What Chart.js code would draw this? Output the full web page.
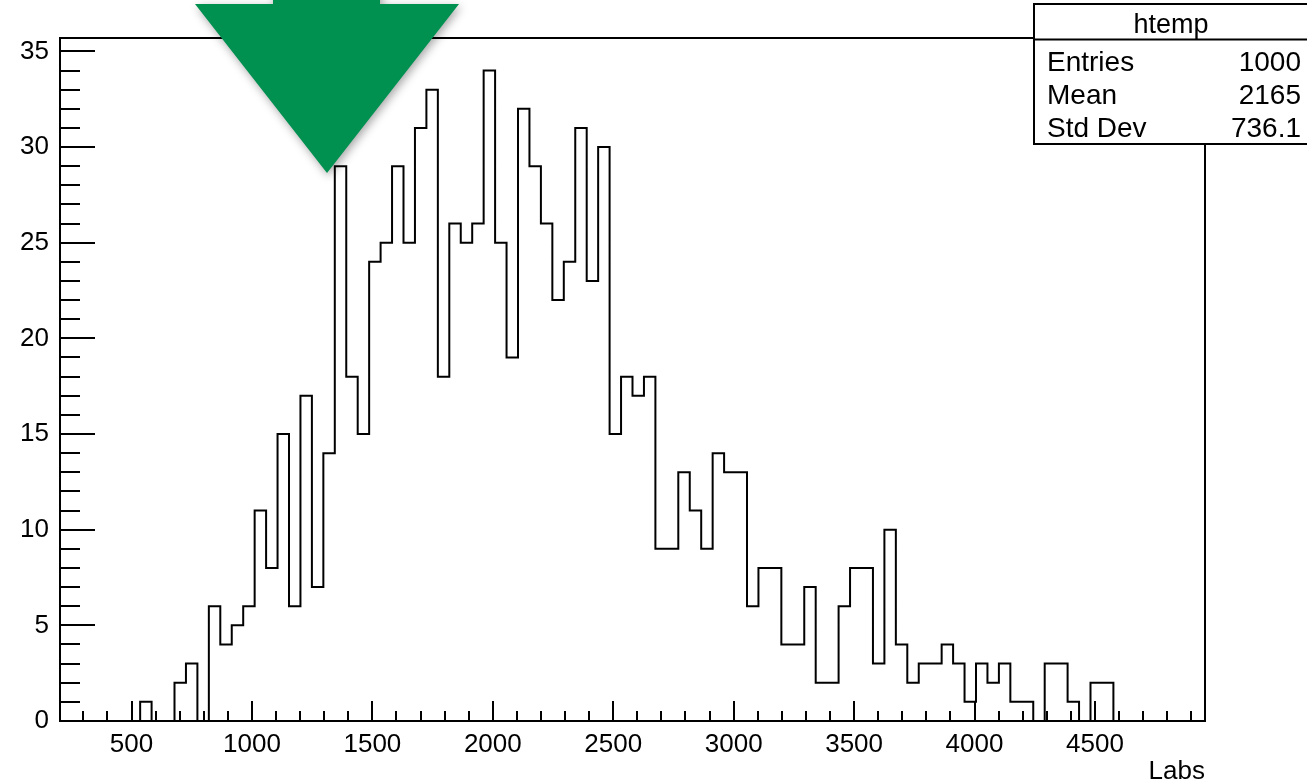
<!DOCTYPE html>
<html>
<head>
<meta charset="utf-8">
<script src="https://cdn.jsdelivr.net/npm/chart.js@4/dist/chart.umd.min.js"></script>
<style>
  html, body { margin: 0; padding: 0; background: #ffffff; }
  #wrap { width: 1307px; height: 781px; position: relative; }
</style>
</head>
<body>
<div id="wrap"><canvas id="c" width="1307" height="781"></canvas></div>
<script>
// ---------------- data ----------------
const X_MIN = 202.9;          // lower edge of the histogram axis
const X_MAX = 4957.0;         // upper edge of the histogram axis
const Y_MAX = 35.7;           // top of the frame
const binCounts = [
  0, 0, 0, 0, 0, 0, 0, 1, 0, 0,
  2, 3, 0, 6, 4, 5, 6, 11, 8, 15,
  6, 17, 7, 14, 29, 18, 15, 24, 25, 29,
  25, 31, 33, 18, 26, 25, 26, 34, 25, 19,
  32, 29, 26, 22, 24, 31, 23, 30, 15, 18,
  17, 18, 9, 9, 13, 11, 9, 14, 13, 13,
  6, 8, 8, 4, 4, 7, 2, 2, 6, 8,
  8, 3, 10, 4, 2, 3, 3, 4, 3, 1,
  3, 2, 3, 1, 1, 0, 3, 3, 1, 0,
  2, 2, 0, 0, 0, 0, 0, 0, 0, 0
];
const xTickLabels = [500, 1000, 1500, 2000, 2500, 3000, 3500, 4000, 4500];
const yTickLabels = [0, 5, 10, 15, 20, 25, 30, 35];
const X_MINOR_STEP = 100;
const Y_MINOR_STEP = 1;
const axisTitle = 'Labs';
const statsTitle = 'htemp';
const statsNames = ['Entries', 'Mean', 'Std Dev'];
const statsValues = ['1000', '2165', '736.1'];

// ---------------- build histogram outline points ----------------
const binWidth = (X_MAX - X_MIN) / binCounts.length;
const outline = binCounts.map((v, i) => ({ x: X_MIN + i * binWidth, y: v }));
outline.push({ x: X_MAX, y: binCounts[binCounts.length - 1] });

const FONT = '"Liberation Sans", Arial, Helvetica, sans-serif';
Chart.defaults.font.family = FONT;
Chart.defaults.color = '#000';

// ---------------- ROOT-style decorations ----------------
const rootDecor = {
  id: 'rootDecor',
  afterDraw(chart) {
    const ctx = chart.ctx;
    const a = chart.chartArea;
    const xs = chart.scales.x, ys = chart.scales.y;
    ctx.save();
    ctx.strokeStyle = '#000';
    ctx.lineWidth = 2;
    // frame
    ctx.strokeRect(a.left, a.top, a.right - a.left, a.bottom - a.top);
    // x ticks (inside, pointing up)
    ctx.beginPath();
    const xStart = Math.ceil(X_MIN / X_MINOR_STEP) * X_MINOR_STEP;
    for (let v = xStart; v <= X_MAX; v += X_MINOR_STEP) {
      const px = Math.round(xs.getPixelForValue(v));
      const major = xTickLabels.includes(v);
      ctx.moveTo(px, a.bottom);
      ctx.lineTo(px, a.bottom - (major ? 20 : 10));
    }
    // y ticks (inside, pointing right)
    for (let v = Y_MINOR_STEP; v <= Y_MAX; v += Y_MINOR_STEP) {
      const py = Math.round(ys.getPixelForValue(v));
      const major = yTickLabels.includes(v);
      ctx.moveTo(a.left, py);
      ctx.lineTo(a.left + (major ? 35 : 20), py);
    }
    ctx.stroke();

    // stats box
    const bx = 1034, by = 4, bw = 300, bh = 140, sep = 39.5;
    ctx.fillStyle = '#fff';
    ctx.fillRect(bx, by, bw, bh);
    ctx.lineWidth = 2;
    ctx.strokeRect(bx, by, bw, bh);
    ctx.beginPath();
    ctx.moveTo(bx, sep); ctx.lineTo(bx + bw, sep);
    ctx.stroke();
    ctx.fillStyle = '#000';
    ctx.textBaseline = 'alphabetic';
    ctx.font = '27px ' + FONT;
    ctx.textAlign = 'center';
    ctx.fillText(statsTitle, 1171, 33);
    ctx.font = '28px ' + FONT;
    const rowY = [71, 104, 137];
    statsNames.forEach((n, i) => {
      ctx.textAlign = 'left';
      ctx.fillText(n, 1047, rowY[i]);
      ctx.textAlign = 'right';
      ctx.fillText(statsValues[i], 1301, rowY[i]);
    });

    // green arrow overlay
    ctx.save();
    ctx.shadowColor = 'rgba(0,0,0,0.35)';
    ctx.shadowBlur = 10;
    ctx.shadowOffsetX = 2;
    ctx.shadowOffsetY = 3;
    ctx.fillStyle = 'rgb(0,144,80)';
    ctx.beginPath();
    ctx.moveTo(273, -20);
    ctx.lineTo(380, -20);
    ctx.lineTo(380, 4);
    ctx.lineTo(459, 4);
    ctx.lineTo(327, 173);
    ctx.lineTo(195, 4);
    ctx.lineTo(273, 4);
    ctx.closePath();
    ctx.fill();
    ctx.restore();

    ctx.restore();
  }
};

new Chart(document.getElementById('c'), {
  type: 'line',
  data: {
    datasets: [{
      data: outline,
      stepped: true,
      borderColor: '#000',
      borderWidth: 2,
      pointRadius: 0,
      fill: false,
      clip: 4
    }]
  },
  options: {
    responsive: false,
    devicePixelRatio: 1,
    animation: false,
    events: [],
    layout: { padding: { top: 38, right: 102, bottom: 0, left: 0 } },
    plugins: { legend: { display: false }, tooltip: { enabled: false }, title: { display: false } },
    scales: {
      x: {
        type: 'linear',
        min: X_MIN,
        max: X_MAX,
        afterBuildTicks: s => { s.ticks = xTickLabels.map(v => ({ value: v })); },
        afterFit: s => { s.height = 60; },
        grid: { display: false, drawTicks: false },
        border: { display: false },
        ticks: {
          font: { size: 26 }, color: '#000', padding: 8,
          maxRotation: 0, autoSkip: false,
          callback: v => String(v)
        },
        title: {
          display: true, text: axisTitle, align: 'end', color: '#000',
          font: { size: 26 }, padding: { top: 0, bottom: -6 }
        }
      },
      y: {
        type: 'linear',
        min: 0,
        max: Y_MAX,
        afterBuildTicks: s => { s.ticks = yTickLabels.map(v => ({ value: v })); },
        afterFit: s => { s.width = 60; },
        grid: { display: false, drawTicks: false },
        border: { display: false },
        ticks: {
          font: { size: 26 }, color: '#000', padding: 11,
          callback: v => String(v)
        }
      }
    }
  },
  plugins: [rootDecor]
});
</script>
</body>
</html>
